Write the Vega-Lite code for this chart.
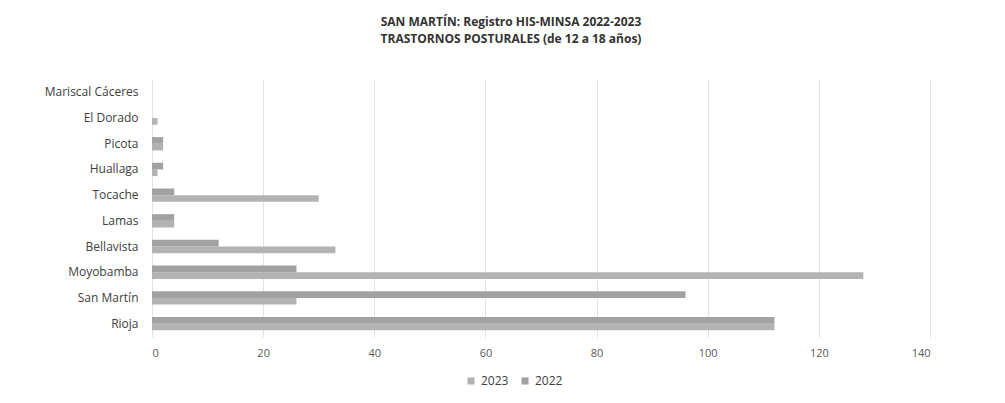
{
  "$schema": "https://vega.github.io/schema/vega-lite/v6.json",
  "autosize": {"type": "none"},
  "width": 778,
  "height": 258,
  "padding": {"left": 152, "top": 79, "right": 75, "bottom": 66},
  "background": "white",
  "title": {
    "text": ["SAN MARTÍN: Registro HIS-MINSA 2022-2023", "TRASTORNOS POSTURALES (de 12 a 18 años)"],
    "font": "Open Sans",
    "fontSize": 12,
    "fontWeight": "bold",
    "color": "#333333",
    "anchor": "middle",
    "dx": -30,
    "offset": 33,
    "lineHeight": 17
  },
  "data": {
    "values": [
      {"provincia": "Mariscal Cáceres", "anio": "2023", "casos": 0},
      {"provincia": "Mariscal Cáceres", "anio": "2022", "casos": 0},
      {"provincia": "El Dorado", "anio": "2023", "casos": 1},
      {"provincia": "El Dorado", "anio": "2022", "casos": 0},
      {"provincia": "Picota", "anio": "2023", "casos": 2},
      {"provincia": "Picota", "anio": "2022", "casos": 2},
      {"provincia": "Huallaga", "anio": "2023", "casos": 1},
      {"provincia": "Huallaga", "anio": "2022", "casos": 2},
      {"provincia": "Tocache", "anio": "2023", "casos": 30},
      {"provincia": "Tocache", "anio": "2022", "casos": 4},
      {"provincia": "Lamas", "anio": "2023", "casos": 4},
      {"provincia": "Lamas", "anio": "2022", "casos": 4},
      {"provincia": "Bellavista", "anio": "2023", "casos": 33},
      {"provincia": "Bellavista", "anio": "2022", "casos": 12},
      {"provincia": "Moyobamba", "anio": "2023", "casos": 128},
      {"provincia": "Moyobamba", "anio": "2022", "casos": 26},
      {"provincia": "San Martín", "anio": "2023", "casos": 26},
      {"provincia": "San Martín", "anio": "2022", "casos": 96},
      {"provincia": "Rioja", "anio": "2023", "casos": 112},
      {"provincia": "Rioja", "anio": "2022", "casos": 112}
    ]
  },
  "mark": {"type": "bar"},
  "encoding": {
    "y": {
      "field": "provincia",
      "type": "nominal",
      "sort": ["Mariscal Cáceres", "El Dorado", "Picota", "Huallaga", "Tocache", "Lamas", "Bellavista", "Moyobamba", "San Martín", "Rioja"],
      "scale": {"paddingInner": 0.48, "paddingOuter": 0.26},
      "axis": {
        "title": null,
        "domain": false,
        "ticks": false,
        "labelPadding": 14,
        "labelFont": "Open Sans",
        "labelFontSize": 12,
        "labelColor": "#404040",
        "grid": false
      }
    },
    "yOffset": {"field": "anio", "type": "nominal", "sort": ["2022", "2023"]},
    "x": {
      "field": "casos",
      "type": "quantitative",
      "scale": {"domain": [0, 140], "nice": false},
      "axis": {
        "title": null,
        "values": [0, 20, 40, 60, 80, 100, 120, 140],
        "domain": false,
        "ticks": false,
        "labelPadding": 10,
        "labelFont": "Open Sans",
        "labelFontSize": 11,
        "labelColor": "#595959",
        "gridColor": "#e3e3e3",
        "gridWidth": 1
      }
    },
    "color": {
      "field": "anio",
      "type": "nominal",
      "scale": {"domain": ["2023", "2022"], "range": ["#b3b3b3", "#a2a2a2"]},
      "legend": {
        "title": null,
        "orient": "none",
        "direction": "horizontal",
        "legendX": 313,
        "legendY": 296,
        "symbolType": "square",
        "symbolSize": 50,
        "labelFont": "Open Sans",
        "labelFontSize": 12,
        "labelColor": "#404040",
        "columnPadding": 10
      }
    }
  },
  "config": {"view": {"stroke": null}}
}
